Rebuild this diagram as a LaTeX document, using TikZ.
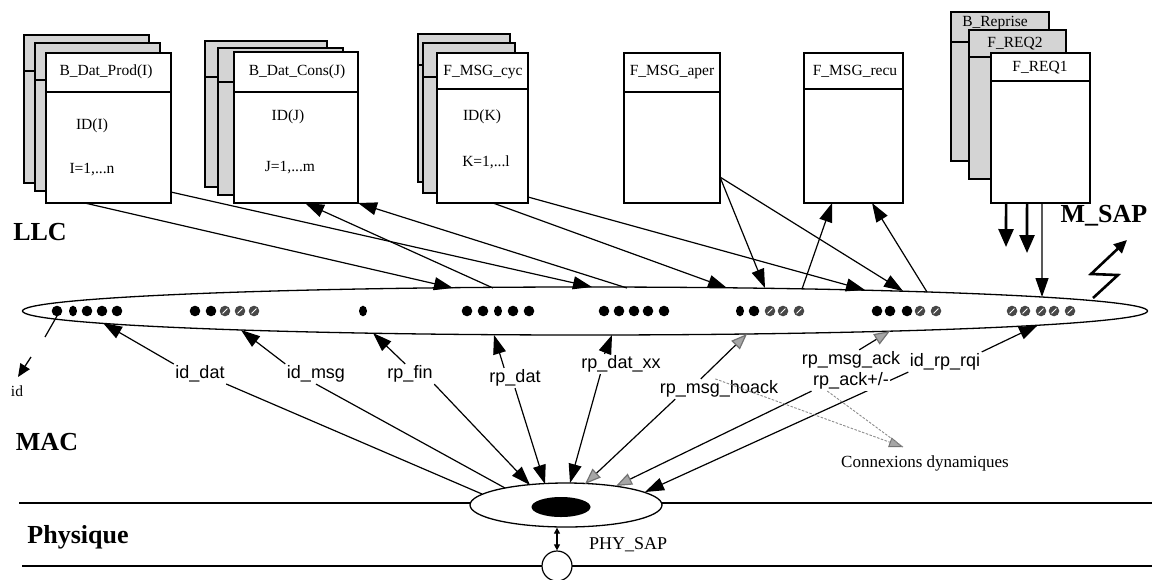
\documentclass[tikz,border=0pt]{standalone}
\usepackage{fontspec}
\setmainfont{Liberation Serif}
\newfontfamily\sigfont{Liberation Sans}
\usetikzlibrary{arrows.meta,calc,shapes.geometric}

% a card: name, x1, y1, x2, y2, y of the header rule, style
\newcommand\drawcard[7]{%
  \node[#7,minimum width={(#4-#2)*1pt},minimum height={(#5-#3)*1pt}] (#1) at (#2,#3) {};
  \draw[frame] (#2,#6) -- (#4,#6);}
% slots of the LLC bus
\newcommand\bdot[1]{\fill (#1,311) circle[radius=5.3pt];}
\newcommand\sdot[1]{\fill (#1,311) ellipse[x radius=4pt,y radius=5.3pt];}
\newcommand\hdot[1]{\fill[black!72] (#1,311) circle[radius=5.3pt];
  \draw[white,line width=1pt] (#1-2.4,313.4) -- (#1+2.4,308.6);}

\begin{document}
\begin{tikzpicture}[x=1pt,y=-1pt,
  frame/.style={line width=1.6pt},
  card/.style={draw,frame,fill=white,anchor=north west,inner sep=0pt,outer sep=0pt},
  backcard/.style={card,fill=black!17},
  ttl/.style={font=\fontsize{15.5}{18}\selectfont,inner sep=0pt},
  layer/.style={font=\fontsize{26}{30}\selectfont\bfseries,inner sep=0pt},
  sig/.style={font=\sigfont\fontsize{18}{20}\selectfont,inner sep=1.5pt,fill=white},
  link/.style={line width=1.2pt},
  arr/.style={link,-{Triangle[length=19pt,width=13pt]}},
  garr/.style={link,-{Triangle[length=16pt,width=12pt,color=black!55,fill=black!35]}},
  dyn/.style={draw=black!45,line width=0.9pt,dash pattern=on 2.5pt off 1.5pt},
  heavy/.style={line width=2.6pt,-{Triangle[length=18pt,width=15pt]}},
]
\useasboundingbox (0,0) rectangle (1155,579);

% ---------------- LLC cards ----------------
\drawcard{prodA}{24}{35}{149}{183}{71}{backcard}
\drawcard{prodB}{35}{43}{160}{191}{80}{backcard}
\drawcard{prod}{46}{53}{171}{203}{92}{card}
\drawcard{consA}{205}{41}{327}{187}{77}{backcard}
\drawcard{consB}{218}{48}{343}{195}{82}{backcard}
\drawcard{cons}{234}{52}{358}{203}{92}{card}
\drawcard{cycA}{418}{34}{510}{182}{65}{backcard}
\drawcard{cycB}{423}{43}{515}{193}{77}{backcard}
\drawcard{cyc}{437}{53}{528}{203}{89}{card}
\drawcard{aper}{624}{53}{720}{203}{92}{card}
\drawcard{recu}{804}{53}{903}{203}{89}{card}
\drawcard{repr}{951}{12}{1049}{161}{42}{backcard}
\drawcard{req2}{969}{30}{1066}{179}{57}{backcard}
\drawcard{req1}{991}{53}{1090}{203}{81}{card}

\node[ttl] (tprod) at (106,72) {B\_Dat\_Prod(I)};
\node[ttl] (idI) at (92,126) {ID(I)};
\node[ttl] (rngI) at (92,170) {I=1,...n};
\node[ttl] (tcons) at (297,72) {B\_Dat\_Cons(J)};
\node[ttl] (idJ) at (288,117) {ID(J)};
\node[ttl] (rngJ) at (290,168) {J=1,...m};
\node[ttl] (tcyc) at (483,72) {F\_MSG\_cyc};
\node[ttl] (idK) at (482,117) {ID(K)};
\node[ttl] (rngK) at (486,162) {K=1,...l};
\node[ttl] (taper) at (672,72) {F\_MSG\_aper};
\node[ttl] (trecu) at (855,71) {F\_MSG\_recu};
\node[ttl] (trepr) at (995,23) {B\_Reprise};
\node[ttl] (treq2) at (1015,44) {F\_REQ2};
\node[ttl] (treq1) at (1040,68) {F\_REQ1};

% ---------------- layer names ----------------
\node[layer] (llc) at (40,232) {LLC};
\node[layer] (msap) at (1104,216) {M\_SAP};
\node[layer] (maclay) at (47,442) {MAC};
\node[layer] (phylay) at (78,537) {Physique};

% ---------------- LLC bus ----------------
\node[draw,ellipse,line width=1.3pt,minimum width=1125pt,minimum height=48pt,inner sep=0pt] (bus) at (585,311) {};
\bdot{57}\sdot{73}\bdot{87}\bdot{102}\bdot{117}
\bdot{195}\bdot{211}\hdot{225}\hdot{240}\hdot{254}
\sdot{363}
\bdot{467}\bdot{483}\sdot{498}\bdot{513}\bdot{529}
\bdot{604}\bdot{619}\bdot{634}\bdot{648}\bdot{664}
\sdot{740}\bdot{754}\hdot{770}\hdot{783}\hdot{799}
\bdot{877}\bdot{890}\bdot{907}\hdot{920}\hdot{936}
\hdot{1012}\hdot{1025}\hdot{1041}\hdot{1054}\hdot{1070}

% points on the upper rim of the bus
\coordinate (e1) at (453,288);
\coordinate (e2) at (592,287);
\coordinate (e3) at (493,288);
\coordinate (e4) at (627,288);
\coordinate (e5) at (727,288);
\coordinate (e6) at (865,290);
\coordinate (e7) at (765,288);
\coordinate (e8) at (903,291);
\coordinate (e9) at (802,289);
\coordinate (e10) at (927,292);
\coordinate (e11) at (1042,297);
\coordinate (e12) at (1093,298);

% LLC <-> bus
\draw[arr] ($(prod.south west)!0.31!(prod.south east)$) -- (e1);
\draw[arr] ($(prod.north east)!0.927!(prod.south east)$) -- (e2);
\draw[arr] (e3) -- ($(cons.south west)!0.573!(cons.south east)$);
\draw[arr] (e4) -- (cons.south east);
\draw[arr] ($(cyc.south west)!0.615!(cyc.south east)$) -- (e5);
\draw[arr] ($(cyc.north east)!0.96!(cyc.south east)$) -- (e6);
\draw[arr] ($(aper.north east)!0.827!(aper.south east)$) -- (e7);
\draw[arr] ($(aper.north east)!0.827!(aper.south east)$) -- (e8);
\draw[arr] (e9) -- ($(recu.south west)!0.283!(recu.south east)$);
\draw[arr] (e10) -- ($(recu.south west)!0.687!(recu.south east)$);

% requests down to the M_SAP
\coordinate (f1) at (1006,247);
\coordinate (f2) at (1027,253);
\draw[heavy] ($(req1.south west)!0.152!(req1.south east)$) -- (f1);
\draw[heavy] ($(req1.south west)!0.364!(req1.south east)$) -- (f2);
\draw[arr] ($(req1.south west)!0.515!(req1.south east)$) -- (e11);

% lightning out of the bus
\coordinate (z1) at (1118,275);
\coordinate (z2) at (1091,274);
\coordinate (z3) at (1127,240);
\draw[line width=2.6pt,line join=miter,-{Triangle[length=13pt,width=12pt]}] (e12) -- (z1) -- (z2) -- (z3);

% id pointer
\coordinate (i1) at (45,337);
\coordinate (i2) at (31,357);
\coordinate (i3) at (18,377);
\draw[link] (57,316) -- (i1);
\draw[line width=1.3pt,-{Triangle[length=13pt,width=11pt]}] (i2) -- (i3);
\node[inner sep=0pt,font=\fontsize{15.5}{18}\selectfont] (idtxt) at (17,391) {id};

% ---------------- physical layer ----------------
\draw[line width=1.2pt] (19,503) -- (1152,503);
\draw[line width=1.2pt] (22,566) -- (1152,566);
\node[draw,ellipse,fill=white,line width=1.3pt,minimum width=192pt,minimum height=44pt,inner sep=0pt] (mac) at (566,505) {};
\node[ellipse,fill=black,minimum width=59pt,minimum height=20pt,inner sep=0pt] (blob) at (561,507) {};
\node[draw,circle,fill=white,line width=1.2pt,minimum size=30pt,inner sep=0pt] (sap) at (557,566) {};
\draw[line width=1.1pt,{Triangle[length=6pt,width=6pt]}-{Triangle[length=6pt,width=6pt]}] (sap.north |- mac.south) -- (sap.north);
\node[anchor=west,inner sep=0pt,font=\fontsize{18}{20}\selectfont] (phsap) at (589,545) {PHY\_SAP};

% points on the lower rim of the bus
\coordinate (b1) at (103,323);
\coordinate (b2) at (241,330);
\coordinate (b3) at (373,333);
\coordinate (b4) at (494,335);
\coordinate (b5) at (612,335);
\coordinate (b6) at (747,334);
\coordinate (b7) at (890,331);
\coordinate (b8) at (1038,325);
% points on the upper rim of the MAC ellipse
\coordinate (m1) at (482,494);
\coordinate (m2) at (505,488);
\coordinate (m3) at (530,485);
\coordinate (m4) at (545,484);
\coordinate (m5) at (570,483);
\coordinate (m6) at (585,484);
\coordinate (m7) at (616,486);
\coordinate (m8) at (645,492);

% service primitives
\path (200,374) node[sig,fill=none] (lid) {id\_dat}
      (316,374) node[sig,fill=none] (lmsg) {id\_msg}
      (410,374) node[sig,fill=none] (lfin) {rp\_fin}
      (515,378) node[sig,fill=none] (ldat) {rp\_dat}
      (621,364) node[sig,fill=none] (lxx) {rp\_dat\_xx}
      (719,389) node[sig,fill=none] (lnoack) {rp\_msg\_hoack}
      (851,360) node[sig,fill=none] (lack) {rp\_msg\_ack}
      (851,381) node[sig,fill=none] (lpm) {rp\_ack+/-}
      (945,362) node[sig,fill=none] (lrqi) {id\_rp\_rqi};

\draw[arr] (lid.north west) -- (b1);
\draw[link] (lid.south east) -- (m1);
\draw[arr] (lmsg.north west) -- (b2);
\draw[link] (lmsg.south) -- (m2);
\draw[arr] ($(lfin.north west)!0.4!(lfin.north east)$) -- (b3);
\draw[arr] (lfin.south east) -- (m3);
\draw[arr] ($(ldat.north west)!0.3!(ldat.north east)$) -- (b4);
\draw[arr] (ldat.south) -- (m4);
\draw[arr] ($(lxx.north west)!0.3!(lxx.north east)$) -- (b5);
\draw[arr] ($(lxx.south west)!0.25!(lxx.south east)$) -- (m5);
\draw[garr] ($(lnoack.north west)!0.35!(lnoack.north east)$) -- (b6);
\draw[garr] ($(lnoack.south west)!0.14!(lnoack.south east)$) -- (m6);
\draw[garr] ($(lack.north west)!0.58!(lack.north east)$) -- (b7);
\draw[garr] (lpm.south west) -- (m7);
\draw[arr] (lrqi.north east) -- (b8);
\draw[arr] (lrqi.south west) -- (m8);

% labels drawn over the lines they cut
\node[sig] at (lpm) {rp\_ack+/-};

% dynamic connections
\node[inner sep=0pt,font=\fontsize{17}{20}\selectfont] (conn) at (925,463) {Connexions dynamiques};
\coordinate (cx) at (903,447);
\draw[dyn,-{Triangle[length=14pt,width=10pt,color=black!55,fill=black!35]}] ($(lnoack.north west)!0.47!(lnoack.north east)$) -- (cx);
\draw[dyn] ($(lpm.south west)!0.2!(lpm.south east)$) -- (cx);
\end{tikzpicture}
\end{document}
